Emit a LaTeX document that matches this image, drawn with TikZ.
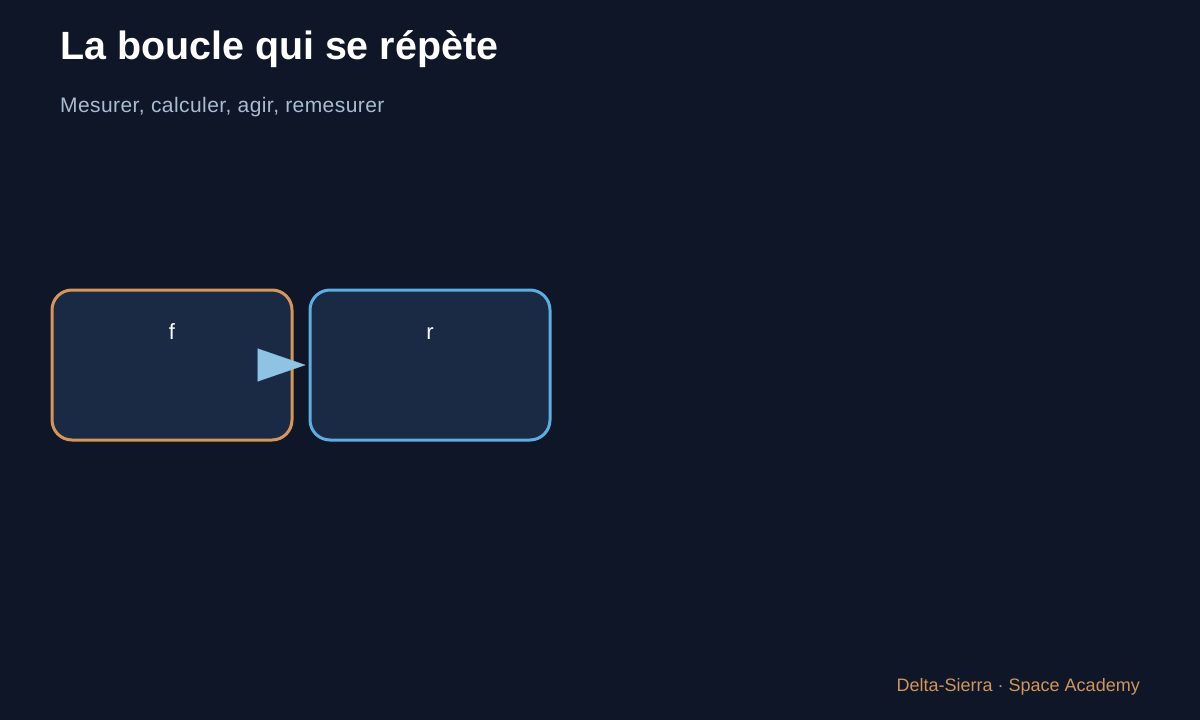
\documentclass[tikz,border=0pt]{standalone}
\usepackage{fontspec}
\setmainfont{Liberation Sans}
\usetikzlibrary{arrows.meta}
\definecolor{bg}{HTML}{0E1628}
\definecolor{boxfill}{HTML}{1A2A45}
\definecolor{orangec}{HTML}{D4965A}
\definecolor{bluec}{HTML}{5DADE2}
\definecolor{arrowc}{HTML}{8EC3E3}
\definecolor{subc}{HTML}{A9BCD0}
\definecolor{footc}{HTML}{D0955C}
\begin{document}
\begin{tikzpicture}[x=1pt,y=-1pt,
  stagebox/.style={rounded corners=20pt,line width=3pt,fill=boxfill,minimum width=240pt,minimum height=150pt,inner sep=0pt},
  lbl/.style={text=white,font=\fontsize{22}{26}\selectfont,inner sep=0pt,anchor=base}]
\fill[bg] (0,0) rectangle (1200,720);
\useasboundingbox (0,0) rectangle (1200,720);
\node[anchor=base west,inner sep=0pt,text=white,font=\fontsize{39.4}{46}\selectfont\bfseries] (title) at (60,59) {La boucle qui se répète};
\node[anchor=base west,inner sep=0pt,text=subc,font=\fontsize{21}{24}\selectfont\addfontfeatures{LetterSpace=2}] (sub) at (60,112) {Mesurer, calculer, agir, remesurer};
\node[stagebox,draw=orangec] (f) at (172,365) {};
\node[stagebox,draw=bluec] (r) at (430,365) {};
\node[lbl] (flbl) at (172,339) {f};
\node[lbl] (rlbl) at (430,339) {r};
\draw[arrowc,line width=0.1pt,-{Triangle[length=48pt,width=33pt]}] (f.east) -- ([xshift=-3pt]r.west);
\node[anchor=base east,inner sep=0pt,text=footc,font=\fontsize{18}{22}\selectfont] (foot) at (1140,691) {Delta-Sierra · Space Academy};
\end{tikzpicture}
\end{document}
